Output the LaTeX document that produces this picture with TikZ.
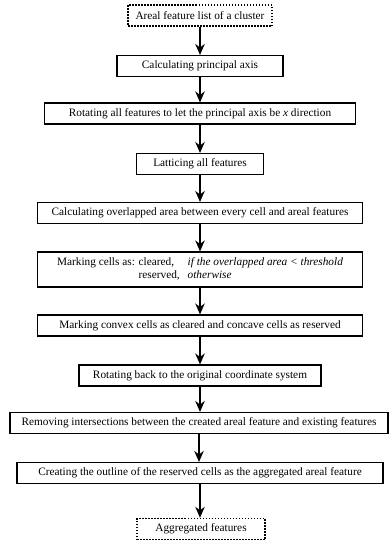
\documentclass[tikz,border=0pt]{standalone}
\usepackage{fontspec}
\setmainfont{Liberation Serif}
\usetikzlibrary{arrows.meta}

\tikzset{
    caja/.style={draw, line width=1.1pt, minimum height=21pt, inner sep=2pt,
        align=center, font=\fontsize{11.3}{13.5}\selectfont},
    cajapunto/.style={caja, line width=1.4pt, dash pattern=on 1.5pt off 1.5pt},
    flecha/.style={line width=1.4pt, -{Stealth[length=11pt,width=9.5pt,inset=3.5pt]}}
}

\begin{document}
\begin{tikzpicture}[x=1pt,y=-1pt]
	\useasboundingbox (0,0) rectangle (390,542);

	% Dibujar las cajas
	\node[cajapunto, minimum width=144pt] (list) at (200,15.5) {Areal feature list of a cluster};
	\node[caja, minimum width=166pt] (axis) at (200,66) {Calculating principal axis};
	\node[caja, minimum width=311pt] (rotate) at (200,113.5) {Rotating all features to let the principal axis be \textit{x} direction};
	\node[caja, minimum width=127pt] (lattice) at (200,164) {Latticing all features};
	\node[caja, minimum width=325pt] (overlap) at (200,213) {Calculating overlapped area between every cell and areal features};
	\node[caja, minimum width=325pt, minimum height=35pt] (mark) at (200,269.5) {%
	    \begin{tabular}{@{}l@{ }l@{\hspace{0.7em}}l@{}}
	    Marking cells as: & cleared, & \textit{if the overlapped area < threshold}\\
	    & reserved, & \textit{otherwise}
	    \end{tabular}};
	\node[caja, minimum width=325pt] (convex) at (200,325.5) {Marking convex cells as cleared and concave cells as reserved};
	\node[caja, minimum width=242pt] (back) at (200,375.5) {Rotating back to the original coordinate system};
	\node[caja, minimum width=378pt, inner sep=1pt] (remove) at (199,423) {Removing intersections between the created areal feature and existing features};
	\node[caja, minimum width=366pt] (outline) at (200,473) {Creating the outline of the reserved cells as the aggregated areal feature};
	\node[cajapunto, minimum width=128pt] (result) at (201,529) {Aggregated features};

	% Dibujar las flechas
	\foreach \a/\b in {list/axis, axis/rotate, rotate/lattice, lattice/overlap,
	    overlap/mark, mark/convex, convex/back, back/remove, remove/outline, outline/result} {
	    \draw[flecha] (\a) -- (\a |- \b.north);
	}
\end{tikzpicture}
\end{document}
